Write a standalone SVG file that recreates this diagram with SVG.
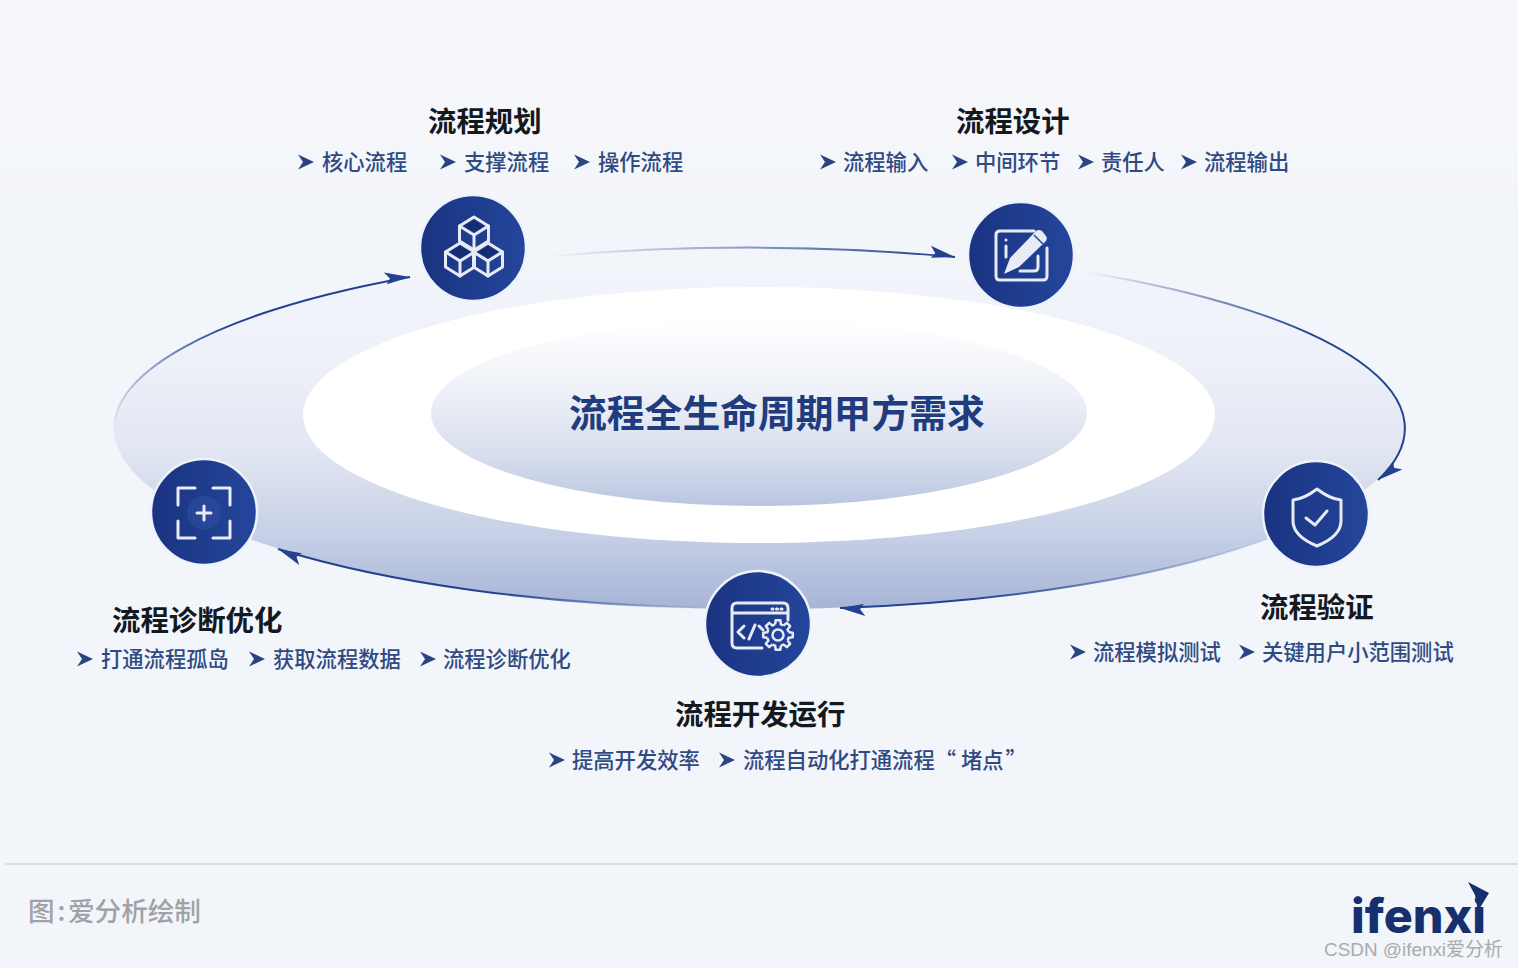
<svg xmlns="http://www.w3.org/2000/svg" width="1518" height="968" viewBox="0 0 1518 968">
<style>
text{font-family:"Noto Sans CJK SC","Noto Sans",sans-serif}
.title{font-size:28.400px;font-weight:700;fill:#141820}
.item{font-size:21.300px;font-weight:500;fill:#2f4a82}
.center{font-size:37.800px;font-weight:700;fill:#213c7c}
.badge{fill:url(#badge);stroke:#eef2fa;stroke-width:2.500}
.ic{fill:none;stroke:#e6ebf6;stroke-width:3;stroke-linecap:round;stroke-linejoin:round}
.gear{fill:none;stroke:#e6ebf6;stroke-width:2.500;stroke-linejoin:round}
.conn{fill:none;stroke-width:2}
</style>
<defs>
<linearGradient id="bg" x1="0" y1="0" x2="0" y2="1"><stop offset="0" stop-color="#f7f8fb"/><stop offset=".25" stop-color="#f2f5fa"/><stop offset="1" stop-color="#f2f5fa"/></linearGradient>
<linearGradient id="ring" x1="0" y1="0" x2="0" y2="1"><stop offset="0" stop-color="#f2f5fa"/><stop offset=".3" stop-color="#eef1f8"/><stop offset=".55" stop-color="#e3e7f3"/><stop offset=".8" stop-color="#c5cfe6"/><stop offset="1" stop-color="#a6b4d6"/></linearGradient>
<linearGradient id="core" x1="0" y1="0" x2="0" y2="1"><stop offset="0" stop-color="#ffffff"/><stop offset=".4" stop-color="#edf0f8"/><stop offset=".75" stop-color="#d5dcec"/><stop offset="1" stop-color="#b9c5e0"/></linearGradient>
<linearGradient id="badge" x1="0" y1="0" x2="1" y2="0"><stop offset="0" stop-color="#1a3381"/><stop offset="1" stop-color="#24469b"/></linearGradient>
<linearGradient id="a1" gradientUnits="userSpaceOnUse" x1="545" y1="0" x2="950" y2="0"><stop offset="0" stop-color="#23418f" stop-opacity="0"/><stop offset="1" stop-color="#23418f"/></linearGradient>
<linearGradient id="a2" gradientUnits="userSpaceOnUse" x1="1085" y1="272" x2="1400" y2="470"><stop offset="0" stop-color="#23418f" stop-opacity="0"/><stop offset=".6" stop-color="#23418f"/></linearGradient>
<linearGradient id="a3" gradientUnits="userSpaceOnUse" x1="1270" y1="0" x2="840" y2="0"><stop offset="0" stop-color="#23418f" stop-opacity="0"/><stop offset=".7" stop-color="#23418f"/></linearGradient>
<linearGradient id="a4" gradientUnits="userSpaceOnUse" x1="705" y1="0" x2="278" y2="0"><stop offset="0" stop-color="#23418f" stop-opacity="0"/><stop offset=".5" stop-color="#23418f"/></linearGradient>
<linearGradient id="a5" gradientUnits="userSpaceOnUse" x1="115" y1="440" x2="300" y2="300"><stop offset="0" stop-color="#23418f" stop-opacity="0"/><stop offset=".7" stop-color="#23418f"/></linearGradient>
<marker id="head" markerUnits="userSpaceOnUse" markerWidth="32" markerHeight="24" viewBox="-2 -12 32 24" refX="25" refY="0" orient="auto" overflow="visible"><path d="M25 0L0 -9L5 -2L1 3Z" fill="#23418f"/></marker>
<path id="bullet" d="M0 -7.500L16 0L0 7.500L5 0Z" fill="#2a4480"/>
<g id="cube" class="ic"><path d="M0 0L14.500 9V24L0 33L-14.500 24V9Z"/><path d="M-14.500 9L0 18L14.500 9"/><path d="M0 18V33"/><path d="M0 3L10 9L0 15L-10 9Z" fill="#162c70" stroke="none"/></g>
<path id="tooth" class="gear" d="M-2.850 -10.630L-2.350 -14.820H2.350L2.850 -10.630A11 11 0 0 1 5.500 -9.530"/>
</defs>

<rect id="background" width="1518" height="968" fill="url(#bg)"/>
<g id="rings">
<ellipse cx="759" cy="428" rx="645" ry="181" fill="url(#ring)"/>
<ellipse cx="759" cy="415" rx="456" ry="128" fill="#ffffff"/>
<ellipse cx="759" cy="413" rx="328" ry="93" fill="url(#core)"/>
<text class="center" x="569" y="427">流程全生命周期甲方需求</text>
</g>

<g id="connectors">
<path class="conn" stroke="url(#a1)" marker-end="url(#head)" d="M545 257A645 181 0 0 1 955 257"/>
<path class="conn" stroke="url(#a2)" marker-end="url(#head)" d="M1085 272A645 181 0 0 1 1378 480"/>
<path class="conn" stroke="url(#a3)" stroke-width="2.500" marker-end="url(#head)" d="M1270 538A645 181 0 0 1 840 608"/>
<path class="conn" stroke="url(#a4)" stroke-width="2.500" marker-end="url(#head)" d="M705 608A645 181 0 0 1 278 549"/>
<path class="conn" stroke="url(#a5)" marker-end="url(#head)" d="M115 440A645 181 0 0 1 410 277"/>
</g>

<g id="node-plan">
<circle class="badge" cx="473" cy="248" r="53"/>
<use href="#cube" x="474" y="217"/><use href="#cube" x="460" y="243"/><use href="#cube" x="488" y="243"/>
<text class="title" x="428" y="132">流程规划</text>
<use href="#bullet" x="298" y="162"/><text class="item" x="322" y="170">核心流程</text>
<use href="#bullet" x="440" y="162"/><text class="item" x="464" y="170">支撑流程</text>
<use href="#bullet" x="574" y="162"/><text class="item" x="598" y="170">操作流程</text>
</g>

<g id="node-design">
<circle class="badge" cx="1021" cy="255" r="53"/>
<path class="ic" d="M1034 231H1000Q996 231 996 235V276Q996 280 1000 280H1043Q1047 280 1047 276V248"/>
<path class="ic" d="M1006 240V240M1006 246V257"/>
<path class="ic" d="M1020 271H1034Q1038 271 1038 267V256"/>
<path d="M1004 274L1010 258L1036 231Q1039 229 1042 231L1046 236Q1048 239 1045 242L1019 267Z" fill="#e6ebf6"/>
<path d="M1034 235L1043 244" stroke="#24469b" stroke-width="1.500" fill="none"/>
<text class="title" x="956" y="132">流程设计</text>
<use href="#bullet" x="820" y="162"/><text class="item" x="843" y="170">流程输入</text>
<use href="#bullet" x="952" y="162"/><text class="item" x="975" y="170">中间环节</text>
<use href="#bullet" x="1078" y="162"/><text class="item" x="1101" y="170">责任人</text>
<use href="#bullet" x="1181" y="162"/><text class="item" x="1204" y="170">流程输出</text>
</g>

<g id="node-verify">
<circle class="badge" cx="1316" cy="514" r="53"/>
<path class="ic" d="M1317 489Q1304 499 1293 500V521Q1293 536 1317 546Q1341 536 1341 521V500Q1330 499 1317 489Z"/>
<path class="ic" d="M1306 518L1315 525L1327 511"/>
<text class="title" x="1260" y="618">流程验证</text>
<use href="#bullet" x="1070" y="652"/><text class="item" x="1093" y="660">流程模拟测试</text>
<use href="#bullet" x="1239" y="652"/><text class="item" x="1262" y="660">关键用户小范围测试</text>
</g>

<g id="node-dev">
<circle class="badge" cx="758" cy="624" r="53"/>
<path class="ic" d="M762 648H737Q732 648 732 643V608Q732 603 737 603H783Q788 603 788 608V620M732 613H788"/>
<path d="M772 609H773M776.500 609H777.500M781 609H782" class="ic" stroke-width="2.500"/>
<path class="ic" d="M744 626L738 632L744 638M749 639L755 625M759 626L763 630"/>
<circle cx="778" cy="635" r="14" fill="#22429a"/>
<g transform="translate(778 635)">
<use href="#tooth"/><use href="#tooth" transform="rotate(45)"/><use href="#tooth" transform="rotate(90)"/><use href="#tooth" transform="rotate(135)"/><use href="#tooth" transform="rotate(180)"/><use href="#tooth" transform="rotate(225)"/><use href="#tooth" transform="rotate(270)"/><use href="#tooth" transform="rotate(315)"/>
<circle r="5.500" class="gear"/>
</g>
<text class="title" x="675" y="725">流程开发运行</text>
<use href="#bullet" x="549" y="760"/><text class="item" x="572" y="768">提高开发效率</text>
<use href="#bullet" x="719" y="760"/><text class="item" x="743" y="768">流程自动化打通流程“<tspan dx="5">堵点</tspan><tspan dx="2">”</tspan></text>
</g>

<g id="node-optimize">
<circle class="badge" cx="204" cy="512" r="53"/>
<circle cx="204" cy="513" r="17" fill="#2f4f9f" opacity=".6"/>
<path class="ic" stroke-linecap="butt" d="M195 488H178V505M213 488H230V505M195 538H178V521M213 538H230V521"/>
<path class="ic" d="M204 506V520M197 513H211"/>
<text class="title" x="112" y="631">流程诊断优化</text>
<use href="#bullet" x="77" y="659"/><text class="item" x="101" y="667">打通流程孤岛</text>
<use href="#bullet" x="249" y="659"/><text class="item" x="273" y="667">获取流程数据</text>
<use href="#bullet" x="420" y="659"/><text class="item" x="443" y="667">流程诊断优化</text>
</g>

<g id="footer">
<rect x="5" y="863" width="1513" height="2" fill="#d9dce3"/>
<text x="28" y="921" font-size="26.600" font-weight="500" fill="#a0a2a6">图<tspan dx="3">:</tspan><tspan x="68">爱分析绘制</tspan></text>
<text x="1351" y="933" font-size="47" font-weight="800" fill="#16306f" textLength="135" lengthAdjust="spacingAndGlyphs" style="font-family:Inter,'Liberation Sans',sans-serif">ifenxi</text>
<path d="M1468 882L1489 893L1478 911L1475 895Z" fill="#16306f"/>
<text x="1324" y="956" font-size="18.900" fill="#a9abae" style="font-family:'Liberation Sans','Noto Sans CJK SC',sans-serif">CSDN @ifenxi爱分析</text>
</g>
</svg>
